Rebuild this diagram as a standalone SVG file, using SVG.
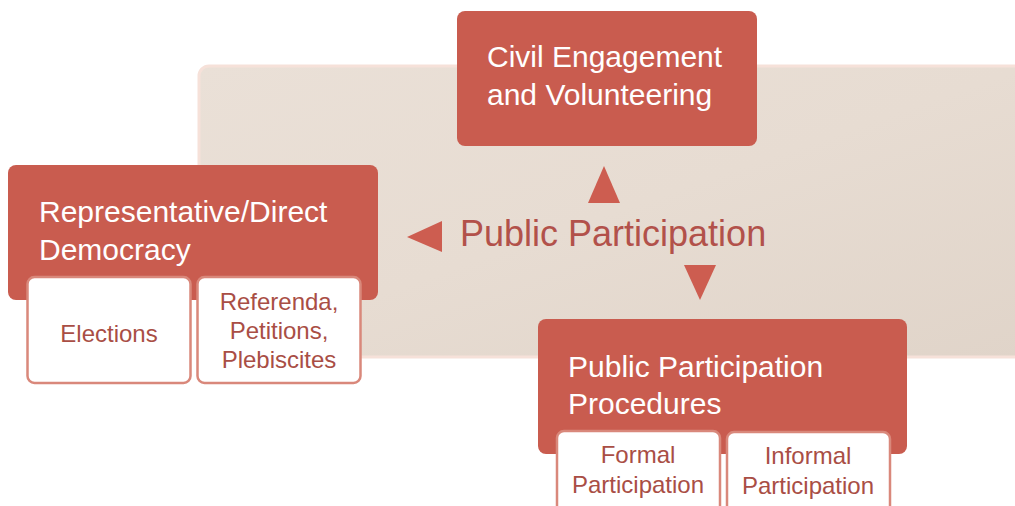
<svg xmlns="http://www.w3.org/2000/svg" width="1015" height="506" viewBox="0 0 1015 506">
<defs>
<style>
.main{fill:#c95c4f;}
.sub{fill:#ffffff;stroke:#d9887b;stroke-width:2.5;}
.tri{fill:#cd5d50;}
.wt{font-family:"Liberation Sans",Arial,sans-serif;font-size:30px;fill:#ffffff;}
.st{font-family:"Liberation Sans",Arial,sans-serif;font-size:24px;fill:#a94e45;text-anchor:middle;}
.ct{font-family:"Liberation Sans",Arial,sans-serif;font-size:36px;fill:#b2514a;}
</style>
<linearGradient id="wood" x1="0" y1="0" x2="1" y2="1">
<stop offset="0" stop-color="#eae0d7"/>
<stop offset="0.5" stop-color="#e7dcd2"/>
<stop offset="1" stop-color="#e0d4c9"/>
</linearGradient>
</defs>
<rect width="1015" height="506" fill="#ffffff"/>
<g id="background">
<rect x="199" y="66" width="830" height="291" rx="10" fill="url(#wood)" stroke="#f6e1d9" stroke-width="3"/>
</g>
<g id="connectors">
<polygon class="tri" points="407,237 442,221 442,252"/>
<polygon class="tri" points="604,166 620,203 588,203"/>
<polygon class="tri" points="684,265 716,265 700,300"/>
</g>
<g id="center">
<text class="ct" x="460" y="246">Public Participation</text>
</g>
<g id="civil">
<rect class="main" x="457" y="11" width="300" height="135" rx="8"/>
<text class="wt" x="487" y="67">Civil Engagement</text>
<text class="wt" x="487" y="105">and Volunteering</text>
</g>
<g id="democracy">
<rect class="main" x="8" y="165" width="370" height="135" rx="8"/>
<text class="wt" x="39" y="222">Representative/Direct</text>
<text class="wt" x="39" y="260">Democracy</text>
</g>
<g id="elections">
<rect class="sub" x="27.5" y="277" width="163" height="106" rx="7"/>
<text class="st" x="109" y="342">Elections</text>
</g>
<g id="referenda">
<rect class="sub" x="197.5" y="277" width="163" height="106" rx="7"/>
<text class="st" x="279" y="310">Referenda,</text>
<text class="st" x="279" y="339">Petitions,</text>
<text class="st" x="279" y="368">Plebiscites</text>
</g>
<g id="procedures">
<rect class="main" x="538" y="319" width="369" height="135" rx="8"/>
<text class="wt" x="568" y="377">Public Participation</text>
<text class="wt" x="568" y="414">Procedures</text>
</g>
<g id="formal">
<rect class="sub" x="557" y="431" width="163" height="90" rx="7"/>
<text class="st" x="638" y="463">Formal</text>
<text class="st" x="638" y="493">Participation</text>
</g>
<g id="informal">
<rect class="sub" x="727" y="432" width="163" height="90" rx="7"/>
<text class="st" x="808" y="464">Informal</text>
<text class="st" x="808" y="494">Participation</text>
</g>
</svg>
